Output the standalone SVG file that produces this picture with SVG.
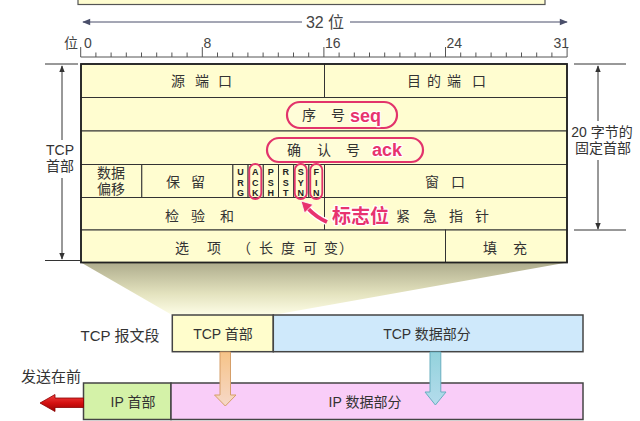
<svg xmlns="http://www.w3.org/2000/svg" width="640" height="421" viewBox="0 0 640 421">
<defs>
<style>
.cell{fill:#fffdd0;stroke:#333;stroke-width:1}
.t{font-family:"Liberation Sans","Noto Sans CJK SC",sans-serif;font-size:14px;fill:#333;text-anchor:middle}
.flag{font-family:"Liberation Sans",sans-serif;font-weight:bold;font-size:9px;fill:#222;text-anchor:middle}
.pink{font-family:"Liberation Sans","Noto Sans CJK SC",sans-serif;font-weight:bold;fill:#e8336e;stroke:#fff;stroke-width:2.5;paint-order:stroke;stroke-linejoin:round}
.pill{fill:#fffdd8;stroke:#e2336b;stroke-width:2.2}
.fo{fill:none;stroke:#e2336b;stroke-width:1.8}
.dim{stroke:#333;stroke-width:1;fill:none}
.ruler{stroke:#555;stroke-width:1;fill:none}
.box{stroke:#444;stroke-width:1.5}
</style>
<marker id="ah" viewBox="0 0 10 10" refX="9" refY="5" markerWidth="7" markerHeight="7" orient="auto-start-reverse" markerUnits="userSpaceOnUse">
<path d="M0,1 L10,5 L0,9 z" fill="#333"/>
</marker>
<marker id="ah2" viewBox="0 0 10 10" refX="9" refY="5" markerWidth="9" markerHeight="8" orient="auto-start-reverse" markerUnits="userSpaceOnUse">
<path d="M0,1 L10,5 L0,9 z" fill="#4a4f6a"/>
</marker>
<linearGradient id="shade" x1="0" y1="0" x2="0" y2="1">
<stop offset="0" stop-color="#aeac8c"/>
<stop offset="0.6" stop-color="#e4e3bf"/>
<stop offset="1" stop-color="#fdfde6"/>
</linearGradient>
<linearGradient id="redg" x1="0" y1="0" x2="0" y2="1">
<stop offset="0" stop-color="#f04040"/>
<stop offset="0.5" stop-color="#d41010"/>
<stop offset="1" stop-color="#9a0000"/>
</linearGradient>
<linearGradient id="orag" x1="0" y1="0" x2="0" y2="1">
<stop offset="0" stop-color="#f6c488"/>
<stop offset="1" stop-color="#f6d8c8"/>
</linearGradient>
<linearGradient id="blug" x1="0" y1="0" x2="0" y2="1">
<stop offset="0" stop-color="#93d2dc"/>
<stop offset="1" stop-color="#b4dcec"/>
</linearGradient>
</defs>

<rect x="0" y="0" width="640" height="421" fill="#fff"/>

<!-- top partial box -->
<rect id="top-box" x="78" y="-6" width="467" height="10.5" fill="#fffdd0" stroke="#555" stroke-width="1.2"/>

<!-- 32 bit dimension -->
<g id="width-label">
<line x1="83" y1="22" x2="302" y2="22" stroke="#4a4f6a" stroke-width="1" marker-start="url(#ah2)"/>
<line x1="350" y1="22" x2="567" y2="22" stroke="#4a4f6a" stroke-width="1" marker-end="url(#ah2)"/>
<text class="t" x="325" y="28" style="font-size:16px;fill:#444">32 位</text>
</g>

<!-- ruler -->
<g id="ruler">
<path class="ruler" d="M80.7,57H567.1 M80.7,47V57 M95.9,52.5V57 M111.1,52.5V57 M126.3,52.5V57 M141.5,52.5V57 M156.7,52.5V57 M171.9,52.5V57 M187.1,52.5V57 M202.3,47V57 M217.5,52.5V57 M232.7,52.5V57 M247.9,52.5V57 M263.1,52.5V57 M278.3,52.5V57 M293.5,52.5V57 M308.7,52.5V57 M323.9,47V57 M339.1,52.5V57 M354.3,52.5V57 M369.5,52.5V57 M384.7,52.5V57 M399.9,52.5V57 M415.1,52.5V57 M430.3,52.5V57 M445.5,47V57 M460.7,52.5V57 M475.9,52.5V57 M491.1,52.5V57 M506.3,52.5V57 M521.5,52.5V57 M536.7,52.5V57 M551.9,52.5V57 M567.1,47V57"/>
<text class="t" x="71" y="48" style="fill:#444">位</text>
<text class="t" x="84" y="48" style="text-anchor:start;fill:#444">0</text>
<text class="t" x="203.5" y="48" style="text-anchor:start;fill:#444">8</text>
<text class="t" x="325" y="48" style="text-anchor:start;fill:#444">16</text>
<text class="t" x="446.5" y="48" style="text-anchor:start;fill:#444">24</text>
<text class="t" x="569" y="48" style="text-anchor:end;fill:#444">31</text>
</g>

<!-- funnel shading -->
<polygon id="funnel" points="81,262.5 567,262.5 273,315 172,315" fill="url(#shade)"/>

<!-- TCP header table -->
<g id="src-port"><rect class="cell" x="81" y="64" width="243.5" height="33.5"/><text class="t" x="178 202 225" y="86">源端口</text></g>
<g id="dst-port"><rect class="cell" x="324.5" y="64" width="242.5" height="33.5"/><text class="t" x="414 434 454 479" y="86">目的端口</text></g>
<g id="seq"><rect class="cell" x="81" y="97.5" width="486" height="33.5"/>
<rect class="pill" x="287" y="102" width="110" height="26" rx="13"/>
<text class="t" x="309 338" y="120">序号</text>
<text class="pink" x="350" y="122" font-size="18">seq</text></g>
<g id="ack"><rect class="cell" x="81" y="131" width="486" height="33.5"/>
<rect class="pill" x="267" y="138" width="156" height="24" rx="12"/>
<text class="t" x="294 324 353" y="155">确认号</text>
<text class="pink" x="372" y="156" font-size="18">ack</text></g>
<g id="offset"><rect class="cell" x="81" y="164.5" width="60.8" height="33"/><text class="t" x="111" y="178">数据</text><text class="t" x="111" y="194">偏移</text></g>
<g id="reserved"><rect class="cell" x="141.8" y="164.5" width="91.1" height="33"/><text class="t" x="173 198" y="187">保留</text></g>
<g id="flag-urg"><rect class="cell" x="232.9" y="164.5" width="15.2" height="33"/><text class="flag" x="240.5" y="175">U</text><text class="flag" x="240.5" y="185.5">R</text><text class="flag" x="240.5" y="196">G</text></g>
<g id="flag-ack"><rect class="cell" x="248.1" y="164.5" width="15.2" height="33"/><text class="flag" x="255.3" y="175">A</text><text class="flag" x="255.3" y="185.5">C</text><text class="flag" x="255.3" y="196">K</text></g>
<g id="flag-psh"><rect class="cell" x="263.3" y="164.5" width="15.2" height="33"/><text class="flag" x="270.7" y="175">P</text><text class="flag" x="270.7" y="185.5">S</text><text class="flag" x="270.7" y="196">H</text></g>
<g id="flag-rst"><rect class="cell" x="278.5" y="164.5" width="15.2" height="33"/><text class="flag" x="285.8" y="175">R</text><text class="flag" x="285.8" y="185.5">S</text><text class="flag" x="285.8" y="196">T</text></g>
<g id="flag-syn"><rect class="cell" x="293.7" y="164.5" width="15.2" height="33"/><text class="flag" x="300.8" y="175">S</text><text class="flag" x="300.8" y="185.5">Y</text><text class="flag" x="300.8" y="196">N</text></g>
<g id="flag-fin"><rect class="cell" x="308.9" y="164.5" width="15.6" height="33"/><text class="flag" x="316.3" y="175">F</text><text class="flag" x="316.3" y="185.5">I</text><text class="flag" x="316.3" y="196">N</text></g>
<g id="window"><rect class="cell" x="324.5" y="164.5" width="242.5" height="33"/><text class="t" x="432 458" y="187">窗口</text></g>
<g id="checksum"><rect class="cell" x="81" y="197.5" width="243.5" height="32.5"/><text class="t" x="172 198 227" y="221">检验和</text></g>
<g id="urgent"><rect class="cell" x="324.5" y="197.5" width="242.5" height="32.5"/><text class="t" x="403 430 456 482" y="221">紧急指针</text></g>
<g id="options"><rect class="cell" x="81" y="230" width="364.5" height="32.5"/><text class="t" x="182 214 244 266 288 310 331 346" y="253">选项（长度可变）</text></g>
<g id="padding"><rect class="cell" x="445.5" y="230" width="121.5" height="32.5"/><text class="t" x="490 520" y="253">填充</text></g>
<rect x="81" y="64" width="486" height="198.5" fill="none" stroke="#222" stroke-width="1.8"/>

<!-- flag outlines -->
<g id="flag-marks">
<rect class="fo" x="249.3" y="164" width="12" height="35" rx="6"/>
<rect class="fo" x="294.8" y="164" width="12" height="35" rx="6"/>
<rect class="fo" x="310.3" y="164" width="12" height="35" rx="6"/>
</g>

<g id="flag-label">
<text class="pink" x="332" y="223" font-size="19">标志位</text>
</g>

<!-- side dimensions -->
<g id="tcp-header-dim">
<line class="dim" x1="45" y1="64" x2="78" y2="64"/>
<line class="dim" x1="45" y1="260.5" x2="80" y2="260.5"/>
<text class="t" x="60" y="155">TCP</text>
<text class="t" x="60" y="171">首部</text>
</g>
<g id="fixed-header-dim">
<line class="dim" x1="574" y1="64" x2="626" y2="64"/>
<line class="dim" x1="574" y1="230" x2="626" y2="230"/>
<text class="t" x="602" y="137">20 字节的</text>
<text class="t" x="603" y="153">固定首部</text>
</g>

<!-- segments -->
<g id="tcp-segment-label"><text class="t" x="120" y="341" style="font-size:15px">TCP 报文段</text></g>
<g id="tcp-header"><rect class="box" x="172.3" y="315" width="101" height="36.7" fill="#fffdcc"/><text class="t" x="223" y="339">TCP 首部</text></g>
<g id="tcp-data"><rect class="box" x="273.3" y="315" width="309.7" height="36.7" fill="#cfe9fb"/><text class="t" x="427" y="339">TCP 数据部分</text></g>
<g id="send-first"><text class="t" x="51" y="382" style="font-size:15px">发送在前</text></g>
<g id="ip-header"><rect class="box" x="83.5" y="383" width="87.5" height="36.5" fill="#d4f2a8"/><text class="t" x="133" y="407">IP 首部</text></g>
<g id="ip-data"><rect class="box" x="171" y="383" width="412" height="36.5" fill="#f9cdf8"/><text class="t" x="365" y="407">IP 数据部分</text></g>

<!-- connectors -->
<g id="connectors">
<line class="dim" x1="62" y1="66" x2="62" y2="140" marker-start="url(#ah)"/>
<line class="dim" x1="62" y1="178" x2="62" y2="259" marker-end="url(#ah)"/>
<line class="dim" x1="598" y1="66" x2="598" y2="121" marker-start="url(#ah)"/>
<line class="dim" x1="598" y1="160" x2="598" y2="229" marker-end="url(#ah)"/>
<path d="M327,222 Q316,217 308,208.5" fill="none" stroke="#fff" stroke-width="6.5"/>
<path d="M327,222 Q316,217 308,208.5" fill="none" stroke="#e8336e" stroke-width="4"/>
<polygon points="301,201 313,204.5 304.5,213" fill="#e8336e" stroke="#fff" stroke-width="0.8"/>
<polygon points="220,352 230.5,352 230.5,395 236,395 225.3,406 214.5,395 220,395" fill="url(#orag)" stroke="#d59e68" stroke-width="1"/>
<polygon points="430,352 440.8,352 440.8,392 446,392 435.4,405 425,392 430,392" fill="url(#blug)" stroke="#68aebf" stroke-width="1"/>
<polygon points="83.5,398 55,398 55,394.5 40,403 55,411.5 55,407.5 83.5,407.5" fill="url(#redg)" stroke="#8a0000" stroke-width="0.8"/>
</g>
</svg>
